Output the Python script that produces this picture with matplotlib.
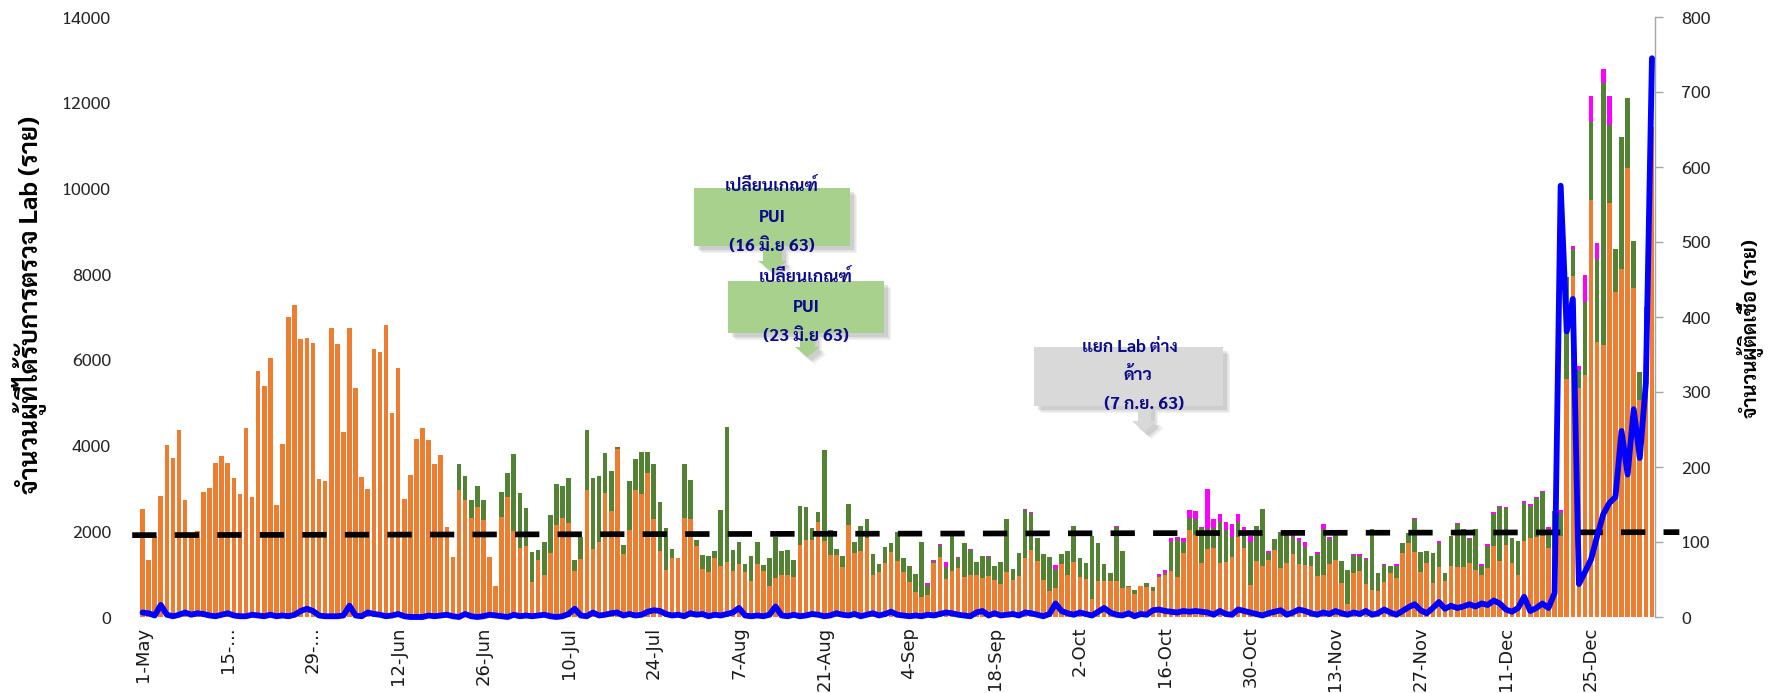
import numpy as np
import pandas as pd
import matplotlib
matplotlib.use('Agg')
import matplotlib.pyplot as plt
from matplotlib import font_manager as fm
from matplotlib.patches import Polygon
from matplotlib.transforms import IdentityTransform

# ---------------- data ----------------
dates = pd.date_range('2020-05-01', '2021-01-04', freq='D')   # 249 days

tick_labels = ['1-May', '15-...', '29-...', '12-Jun', '26-Jun', '10-Jul', '24-Jul',
               '7-Aug', '21-Aug', '4-Sep', '18-Sep', '2-Oct', '16-Oct', '30-Oct',
               '13-Nov', '27-Nov', '11-Dec', '25-Dec']

# tests: Thai residents (orange)
lab_thai = [
    2528, 1330, 1900, 2832, 4014, 3703, 4357, 2731, 1950, 2000,
    2910, 3019, 3602, 3765, 3594, 3236, 2879, 4419, 2801, 5742,
    5399, 6037, 2614, 4030, 7002, 7282, 6481, 6504, 6395, 3221,
    3174, 6753, 6364, 4310, 6753, 5353, 3267, 2980, 6263, 6185,
    6815, 4769, 5804, 2754, 3314, 4147, 4403, 4123, 3563, 3781,
    2108, 1408, 2972, 2731, 2303, 2575, 2256, 1390, 720, 2334,
    2797, 2007, 1603, 1657, 809, 1330, 980, 1486, 2150, 2300,
    2186, 1074, 1346, 2964, 1579, 1743, 2886, 2474, 3913, 1463,
    2031, 2964, 2863, 3353, 2280, 1540, 1097, 1369, 1385, 2303,
    2280, 1657, 1113, 1058, 1385, 1190, 1292, 1074, 1229, 1058,
    840, 1229, 1074, 731, 918, 980, 980, 934, 1680, 1797,
    1797, 2225, 1782, 1447, 1447, 1175, 2147, 1502, 1540, 1836,
    980, 1043, 1253, 1525, 1307, 1043, 825, 576, 475, 513,
    1253, 1408, 887, 1081, 1136, 941, 972, 972, 902, 965,
    864, 770, 1058, 864, 957, 1369, 1564, 1307, 864, 607,
    669, 1229, 980, 1276, 941, 879, 420, 848, 840, 840,
    840, 685, 692, 537, 724, 708, 607, 926, 980, 1074,
    941, 1486, 2031, 1914, 1268, 1579, 1618, 1268, 1276, 1408,
    1860, 1618, 747, 1307, 1190, 1323, 1564, 1151, 1253, 1463,
    1229, 1214, 1190, 957, 972, 1229, 1330, 786, 303, 1035,
    1074, 762, 630, 615, 817, 1035, 902, 1502, 1735, 1525,
    1050, 1253, 801, 1167, 840, 1190, 1175, 1175, 1253, 1097,
    980, 1150, 1650, 1300, 1690, 1260, 990, 1765, 1845, 1865,
    1895, 1610, 1618, 1880, 5547, 7957, 5337, 5648, 9730, 6426,
    6348, 9660, 7576, 8130, 10480, 7685, 5065, 6200, 11430]

# tests: PUI / other (green)
lab_pui = [0] * 52 + [
    591, 560, 436, 482, 475, 0, 0, 591,
    556, 1789, 1284, 883, 700, 234, 763, 895, 954, 757,
    1050, 256, 513, 1401, 1657, 1548, 934, 934, 47, 217,
    1143, 724, 980, 490, 1283, 1152, 972, 210, 0, 1260,
    910, 140, 334, 366, 155, 1307, 3143, 490, 514, 179,
    584, 529, 140, 654, 942, 560, 576, 396, 918, 763,
    272, 233, 2116, 584, 132, 257, 490, 241, 584, 444,
    483, 186, 389, 210, 669, 326, 373, 428, 1283, 234,
    54, 272, 288, 809, 233, 778, 592, 319, 530, 443,
    326, 521, 1222, 249, 545, 1128, 856, 529, 606, 801,
    459, 234, 560, 856, 444, 374, 1470, 871, 389, 195,
    1268, 855, 39, 93, 0, 93, 85, 31, 55, 684,
    872, 257, 287, 373, 817, 467, 451, 957, 755, 467,
    365, 413, 1003, 817, 1338, 163, 256, 833, 637, 412,
    545, 428, 234, 521, 1074, 584, 599, 521, 794, 412,
    350, 600, 1424, 420, 397, 155, 288, 233, 233, 755,
    475, 287, 685, 568, 179, 700, 988, 871, 560, 949,
    210, 500, 750, 1260, 855, 585, 795, 895, 738, 913,
    1015, 450, 856, 550, 2396, 623, 428, 1712, 1818, 1921,
    6103, 1810, 1021, 3074, 1636, 1096, 661, 1043, 0]

# tests: foreign labour (magenta)
lab_foreign = [0] * 129 + [
    39, 23, 20, 101, 0, 21, 0, 26, 0, 0, 17,
    0, 0, 0, 0, 0, 23, 20, 0, 0, 0,
    86, 17, 0, 0, 0, 0, 0, 0, 0, 0,
    17, 0, 0, 0, 0, 0, 8, 47, 62, 78,
    47, 93, 179, 187, 25, 934, 211, 171, 194, 288,
    171, 77, 140, 0, 0, 54, 0, 0, 78, 54,
    78, 116, 0, 39, 117, 62, 0, 0, 0, 23,
    39, 23, 0, 0, 31, 8, 55, 0, 0, 38,
    0, 0, 0, 39, 0, 0, 39, 0, 39, 0,
    39, 46, 50, 20, 15, 0, 0, 40, 50, 22,
    30, 40, 0, 70, 0, 70, 93, 620, 607, 373,
    334, 685, 0, 0, 0, 0, 0, 0, 0]

# new infections (blue line, right axis)
new_cases = [
    6, 5, 2, 16, 3, 1, 3, 6, 3, 5,
    4, 2, 1, 3, 5, 2, 1, 1, 3, 2,
    1, 3, 1, 2, 1, 3, 8, 11, 8, 2,
    1, 1, 1, 2, 15, 2, 1, 6, 4, 3,
    1, 2, 4, 1, 0, 0, 0, 2, 1, 2,
    3, 1, 0, 4, 1, 0, 1, 3, 2, 1,
    0, 3, 1, 2, 1, 2, 3, 1, 0, 1,
    4, 11, 2, 1, 6, 2, 3, 5, 6, 2,
    4, 2, 3, 7, 9, 8, 4, 2, 3, 1,
    5, 3, 4, 1, 3, 2, 4, 6, 12, 2,
    1, 2, 1, 3, 14, 2, 1, 3, 1, 2,
    4, 3, 1, 2, 5, 3, 2, 4, 1, 3,
    5, 2, 4, 7, 3, 2, 1, 2, 1, 3,
    2, 4, 6, 5, 3, 2, 1, 6, 8, 2,
    5, 2, 3, 4, 2, 6, 5, 3, 1, 4,
    18, 8, 5, 3, 6, 4, 2, 7, 12, 6,
    3, 2, 5, 1, 4, 3, 9, 10, 8, 7,
    6, 8, 7, 8, 7, 6, 3, 8, 4, 3,
    10, 8, 6, 4, 2, 5, 7, 9, 3, 6,
    10, 8, 5, 3, 6, 4, 8, 5, 3, 6,
    4, 8, 3, 5, 10, 6, 3, 8, 13, 17,
    9, 5, 12, 20, 11, 15, 12, 14, 17, 14,
    18, 16, 22, 18, 10, 7, 12, 27, 8, 12,
    18, 12, 32, 575, 381, 424, 44, 60, 77, 108,
    137, 152, 160, 248, 190, 277, 212, 312, 745]

# reference level (black dashed line), start and end value
ref_level = [1910, 1980]

notes = [
    ['เปลี่ยนเกณฑ์', 'PUI', '(16 มิ.ย 63)'],
    ['เปลี่ยนเกณฑ์', 'PUI', '(23 มิ.ย 63)'],
    ['แยก Lab ต่าง', 'ด้าว', '(7 ก.ย. 63)'],
]

# ---------------- fonts ----------------
names = {f.name for f in fm.fontManager.ttflist}
def pick(cands):
    for c in cands:
        if c in names:
            return c
    return 'DejaVu Sans'
THAI = pick(['Sarabun', 'IBM Plex Sans Thai', 'Noto Sans Thai', 'Bai Jamjuree', 'Athiti'])
FAM = [THAI, 'DejaVu Sans']
plt.rcParams['font.family'] = FAM

W, H = 1775, 693
fig = plt.figure(figsize=(W / 100, H / 100), dpi=100)
L, R, T, B = 139.5, 1655, 17, 617
ax = fig.add_axes([L / W, 1 - B / H, (R - L) / W, (B - T) / H])

n = len(dates)
x = np.arange(n)
o = np.array(lab_thai, float)
g = np.array(lab_pui, float)
p = np.array(lab_foreign, float)
bw = 0.76
ax.bar(x, o, width=bw, color='#ED7D31', linewidth=0, zorder=2)
ax.bar(x, g, width=bw, bottom=o, color='#548235', linewidth=0, zorder=2)
ax.bar(x, p, width=bw, bottom=o + g, color='#FF00FF', linewidth=0, zorder=2)

ax.plot([-1.7, n + 3.5], ref_level, color='black', lw=4.1,
        linestyle=(0, (4.27, 3.2)), dash_capstyle='butt', clip_on=False, zorder=4)

ax.set_xlim(-0.5, n - 0.5)
ax.set_ylim(0, 14000)
ax.set_yticks(np.arange(0, 14001, 2000))
ax.set_xticks(x[::14][:len(tick_labels)])
ax.set_xticklabels(tick_labels, rotation=90)
for s in ['top', 'left', 'bottom', 'right']:
    ax.spines[s].set_visible(False)
ax.tick_params(axis='y', length=0, pad=20.5, labelsize=13, labelcolor='#262626')
ax.tick_params(axis='x', length=0, pad=7, labelsize=13, labelcolor='#1a1a1a')
for lab in ax.get_xticklabels():
    lab.set_fontfamily(['DejaVu Sans'])

ax2 = ax.twinx()
ax2.plot(x, new_cases, color='#0000FF', lw=4.2, solid_joinstyle='round',
         solid_capstyle='round', clip_on=False, zorder=5)
ax2.set_ylim(0, 800)
ax2.set_yticks(np.arange(0, 801, 100))
for s in ['top', 'left', 'bottom']:
    ax2.spines[s].set_visible(False)
ax2.spines['right'].set_color('#A6A6A6')
ax2.spines['right'].set_linewidth(1.0)
ax2.tick_params(axis='y', direction='out', length=5.8, width=1.0, color='#A6A6A6',
                pad=13, labelsize=13, labelcolor='#262626')

fig.text(30 / W, 1 - 305 / H, 'จำนวนผู้ที่ได้รับการตรวจ Lab (ราย)', rotation=90,
         ha='center', va='center', fontsize=18.5, fontweight='bold', color='black')
fig.text(1750 / W, 1 - 329 / H, 'จำนวนผู้ติดเชื้อ (ราย)', rotation=90,
         ha='center', va='center', fontsize=14.5, fontweight='bold', color='black')

# ---------------- callouts ----------------
def callout(x0, x1, y0, y1, sx0, sx1, sy, hx0, hx1, ty, color):
    tx = (hx0 + hx1) / 2
    pts = [(x0, y0), (x1, y0), (x1, y1), (sx1, y1), (sx1, sy), (hx1, sy), (tx, ty),
           (hx0, sy), (sx0, sy), (sx0, y1), (x0, y1)]
    for k, a in [(7, 0.10), (5.5, 0.14), (4, 0.18)]:
        sh = [(px + k, H - (py + k)) for px, py in pts]
        fig.add_artist(Polygon(sh, closed=True, facecolor='#7F7F7F', edgecolor='none',
                               alpha=a, transform=IdentityTransform(), zorder=5))
    fig.add_artist(Polygon([(px, H - py) for px, py in pts], closed=True,
                           facecolor=color, edgecolor='none',
                           transform=IdentityTransform(), zorder=6))

boxes = [
    (694, 850, 188, 246, 763, 782, 261, 758, 787, 272, '#A9D18E', [772, 772, 772], [187, 217, 246]),
    (728, 884, 281, 333, 800, 815, 347, 795, 820, 357, '#A9D18E', [806, 806, 806], [277, 307, 336]),
    (1034, 1223, 347, 406, 1138, 1151, 421, 1132, 1157, 432, '#D9D9D9', [1130, 1138, 1144], [348, 375, 405]),
]
for (bx0, bx1, by0, by1, sx0, sx1, sy, hx0, hx1, ty, col, cxs, lys), lines in zip(boxes, notes):
    callout(bx0, bx1, by0, by1, sx0, sx1, sy, hx0, hx1, ty, col)
    for cx, ly, t in zip(cxs, lys, lines):
        fig.text(cx / W, 1 - ly / H, t, ha='center', va='center', fontsize=12.5,
                 fontweight='bold', color='#0B0B8A', zorder=7)

fig.savefig('out.png', dpi=100)
